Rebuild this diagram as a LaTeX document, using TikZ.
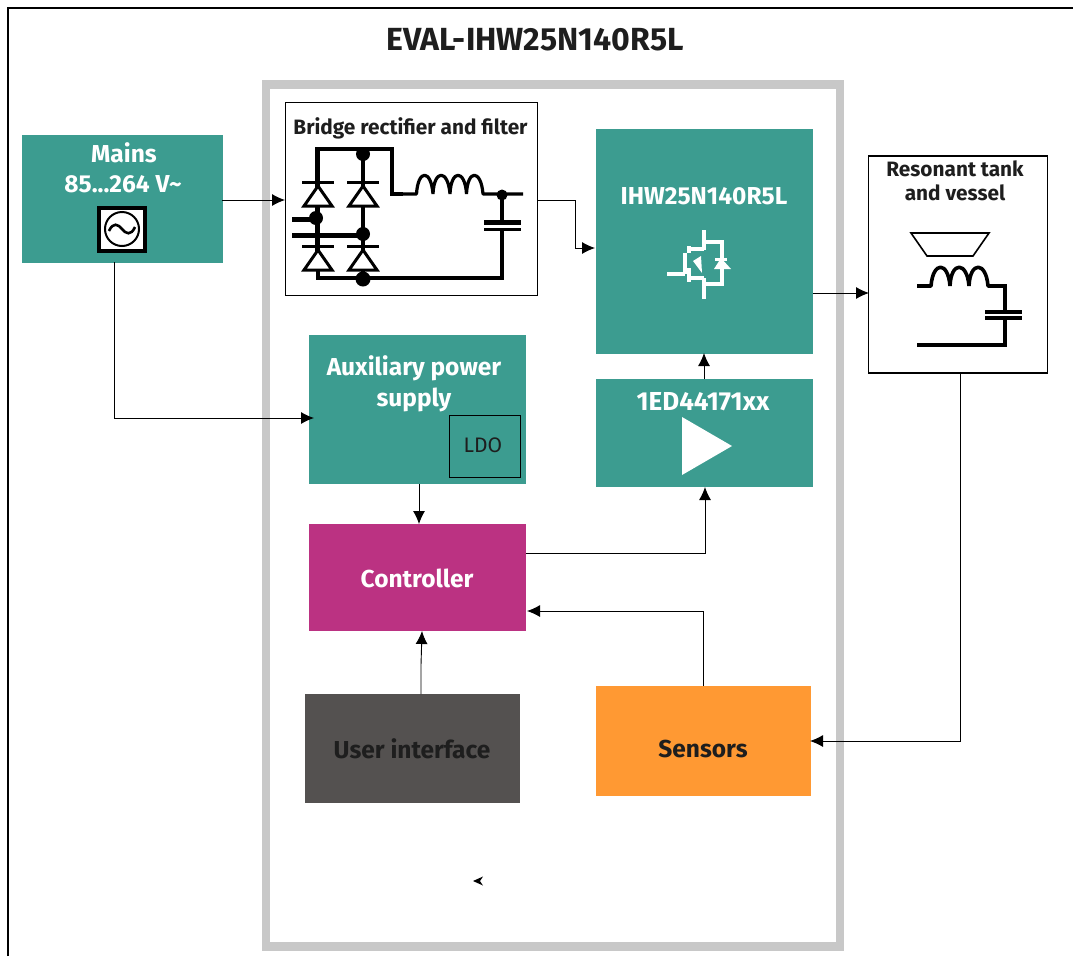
\documentclass[tikz,border=0pt]{standalone}
\usepackage{fontspec}
\setmainfont{Fira Sans}
\usetikzlibrary{arrows.meta}
\definecolor{teal1}{HTML}{3C9C90}
\definecolor{mag}{HTML}{BB3282}
\definecolor{org}{HTML}{FF9933}
\definecolor{dgray}{HTML}{545150}
\definecolor{fr}{HTML}{C8C8C8}
\definecolor{dtxt}{HTML}{1E1E1E}
\tikzset{
 block/.style={draw=none,inner sep=0,outer sep=0},
 lab/.style={font=\bfseries\fontsize{24.5}{31}\selectfont,align=center,text=white},
 blab/.style={font=\bfseries\fontsize{20.8}{24.5}\selectfont,align=center,text=dtxt},
 conn/.style={draw=black,line width=0.9pt,-{Latex[length=13pt,width=12pt]}},
 heavy/.style={line width=4.2pt},
 med/.style={line width=3.2pt},
 dot/.style={circle,fill=black,inner sep=0,minimum size=14pt},
}
\begin{document}
\begin{tikzpicture}[x=1pt,y=-1pt]
\useasboundingbox (0,0) rectangle (1073,956);
\fill[white] (0,0) rectangle (1073,956);
\draw[line width=2pt] (8,956) -- (8,8) -- (1073,8);
\draw[fr,line width=8.5pt] (266,84.5) rectangle (840,946.5);
\node[font=\bfseries\fontsize{32}{32}\selectfont,text=dtxt] (title) at (535,40) {EVAL-IHW25N140R5L};
% blocks
\node[block,fill=teal1,minimum width=201pt,minimum height=128pt,anchor=north west] (mains) at (22,135) {};
\node[lab] (mainst) at (124,153) {Mains};
\node[lab] (mainsv) at (123,184) {85...264 V\char"7E};
\node[draw=black,fill=white,line width=4.5pt,minimum width=46pt,minimum height=43pt,inner sep=0] (src) at (122,229.5) {};
\node[draw=black,circle,line width=2pt,minimum size=34pt,inner sep=0] (srcc) at (122,229) {};
\draw[line width=2.6pt] (109,231) .. controls (113,222) and (118,224) .. (122,229) .. controls (126,234) and (131,236) .. (135,227);
\node[block,draw=black,line width=1.1pt,fill=white,minimum width=252pt,minimum height=193pt,anchor=north west] (rect) at (285.5,102.5) {};
\node[blab] (rectt) at (410.5,128) {Bridge rectifier and filter};
\node[block,fill=teal1,minimum width=217pt,minimum height=225pt,anchor=north west] (igbt) at (596,129) {};
\node[lab] (igbtt) at (704,196) {IHW25N140R5L};
\node[block,fill=teal1,minimum width=217pt,minimum height=149pt,anchor=north west] (aux) at (309,335) {};
\node[lab] (auxt) at (414,384) {Auxiliary power\\supply};
\node[block,draw=black,line width=.9pt,minimum width=71pt,minimum height=62pt,anchor=north west] (ldo) at (449,415) {};
\node[font=\fontsize{21}{21}\selectfont,text=dtxt] (ldot) at (483,445) {LDO};
\node[block,fill=teal1,minimum width=217pt,minimum height=108pt,anchor=north west] (drv) at (596,379) {};
\node[lab,font=\bfseries\fontsize{26}{26}\selectfont] (drvt) at (703,401.5) {1ED44171xx};
\fill[white] (682,417) -- (732,446) -- (682,475) -- cycle;
\node[block,fill=mag,minimum width=217pt,minimum height=107pt,anchor=north west] (ctl) at (309,524) {};
\node[lab] (ctlt) at (417,578) {Controller};
\node[block,fill=dgray,minimum width=215pt,minimum height=109pt,anchor=north west] (ui) at (305,694) {};
\node[lab,text=dtxt] (uit) at (412,749) {User interface};
\node[block,fill=org,minimum width=215pt,minimum height=110pt,anchor=north west] (sens) at (596,686) {};
\node[lab,text=dtxt] (senst) at (703,749) {Sensors};
\node[block,draw=black,line width=1.1pt,fill=white,minimum width=179pt,minimum height=217pt,anchor=north west] (tank) at (868.5,156) {};
\node[blab] (tankt) at (955,181) {Resonant tank\\and vessel};
% connectors
\coordinate (a1) at (222,200);\coordinate (a2) at (285,200);
\draw[conn] (a1) -- (a2);
\coordinate (b1) at (114,262);\coordinate (b2) at (114,418);\coordinate (b3) at (314,418);
\draw[conn] (b1) -- (b2) -- (b3);
\coordinate (c1) at (538,200);\coordinate (c2) at (575,200);\coordinate (c3) at (575,248);\coordinate (c4) at (595,248);
\draw[conn] (c1) -- (c2) -- (c3) -- (c4);
\coordinate (d1) at (813,293);\coordinate (d2) at (869,293);
\draw[conn] (d1) -- (d2);
\coordinate (e1) at (704,379);\coordinate (e2) at (704,353);
\draw[conn] (e1) -- (e2);
\coordinate (f1) at (526,553);\coordinate (f2) at (705,553);\coordinate (f3) at (705,487);
\draw[conn] (f1) -- (f2) -- (f3);
\coordinate (g1) at (419,484);\coordinate (g2) at (419,524);
\draw[conn] (g1) -- (g2);
\coordinate (h1) at (421,694);\coordinate (h2) at (421,665);\coordinate (h3) at (422,631);
\draw[conn] (h1) -- (h2) -- (h3);
\coordinate (i1) at (703,686);\coordinate (i2) at (703,611);\coordinate (i3) at (527,611);
\draw[conn] (i1) -- (i2) -- (i3);
\coordinate (j1) at (960,373);\coordinate (j2) at (960,741);\coordinate (j3) at (810,741);
\draw[conn] (j1) -- (j2) -- (j3);
% bridge
\draw[heavy] (317.5,252) -- (317.5,149) -- (392,149) -- (392,194) -- (403,194);
\draw[med] (363,149) -- (363,250);
\draw[med] (318,205) -- (318,250);
\draw[med,line join=bevel] (403,194) -- (416.5,194) .. controls (418,169) and (431,169) .. (433,194) .. controls (434,169) and (448,169) .. (450,194) .. controls (451,169) and (465,169) .. (466.5,194) .. controls (467.5,169) and (481,169) .. (483,194) -- (523,194);
\draw[med] (502,194) -- (502,222);
\draw[line width=5pt] (484,222.5) -- (521,222.5);
\draw[line width=3.6pt] (484,229.5) -- (521,229.5);
\draw[heavy] (502,229.5) -- (502,278) -- (318,278) -- (318,268);
\draw[med] (363,268) -- (363,279);
\foreach \nm/\cx/\ty in {da/318/182,db/363/182,dc/318/246,dd/363/246}{
 \draw[line width=3pt] (\cx-16,\ty) -- (\cx+16,\ty);
 \draw[line width=3pt,fill=white,line join=miter] (\cx,\ty+4) -- (\cx-14,\ty+24) -- (\cx+14,\ty+24) -- cycle;
}
\draw[line width=5pt] (292,219) -- (316,219);
\draw[line width=5pt] (292,235) -- (363,235);
\node[dot,minimum size=11pt] (n1) at (502,195) {};
\node[dot] (n2) at (363,154) {};
\node[dot] (n3) at (316,218) {};
\node[dot] (n4) at (363,234) {};
\node[dot,minimum size=15pt] (n5) at (363,279) {};
% igbt symbol
\begin{scope}[white]
\draw[line width=4.5pt] (667,274) -- (685,274);
\draw[line width=4pt] (685,253) -- (685,274);
\draw[line width=3.5pt] (689,246) -- (689,253);
\draw[line width=3.5pt] (689,249) -- (704,249);
\draw[line width=4pt] (704,230) -- (704,250);
\draw[line width=3.5pt] (689,268) -- (689,282);
\draw[line width=3.5pt] (689,278) -- (704,278);
\draw[line width=4pt] (704,278) -- (704,299);
\draw[line width=3.5pt] (704,242) -- (722,242) -- (722,284) -- (704,284);
\fill (693,261) -- (701,256) -- (702,273) -- cycle;
\fill (714,269) -- (721,258) -- (731,269) -- cycle;
\fill (715,258) rectangle (727,260.5);
\end{scope}
% tank
\draw[line width=1.6pt,fill=white] (911,233) -- (989,233) -- (973,256) -- (927,256) -- cycle;
\draw[line width=3.6pt,line join=bevel] (917,286) -- (931,286) .. controls (933,261) and (948,261) .. (950,286) .. controls (951,261) and (967,261) .. (969,286) .. controls (970,261) and (986,261) .. (988,286) -- (1005,286);
\draw[heavy] (1005,284) -- (1005,312);
\draw[heavy] (985,312) -- (1022,312);
\draw[heavy] (985,318) -- (1022,318);
\draw[heavy] (1005,318) -- (1005,345) -- (917,345);
% stray mark
\coordinate (s1) at (473,881);
\fill (473,881) -- (483,876.5) -- (480,881) -- (483,885.5) -- cycle;
\end{tikzpicture}
\end{document}
